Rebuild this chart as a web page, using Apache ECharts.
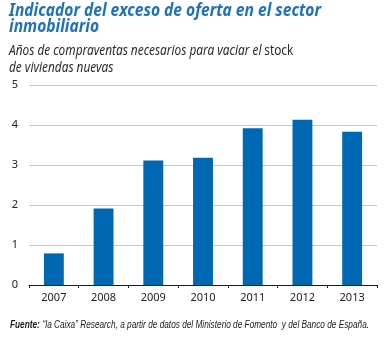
<!DOCTYPE html>
<html><head><meta charset="utf-8">
<script src="https://cdn.jsdelivr.net/npm/echarts@6/dist/echarts.min.js"></script>
<style>html,body{margin:0;padding:0;background:#fff}#c{width:387px;height:338px}</style>
</head><body><div id="c"></div>
<script>
const categories = ['2007','2008','2009','2010','2011','2012','2013'];
const values = [0.79, 1.91, 3.11, 3.18, 3.92, 4.13, 3.83];
const yTicks = [0,1,2,3,4,5];
const titleText = 'Indicador del exceso de oferta en el sector\ninmobiliario';
const subtitleLine1 = 'Años de compraventas necesarios para vaciar el';
const subtitleWord = 'stock';
const subtitleLine2 = 'de viviendas nuevas';
const sourceLabel = 'Fuente:';
const sourceText = '“la Caixa” Research, a partir de datos del Ministerio de Fomento  y del Banco de España.';

const chart = echarts.init(document.getElementById('c'), null, {renderer:'canvas'});
chart.setOption({
  backgroundColor:'#ffffff',
  animation:false,
  graphic:[
    {type:'text', x:9, y:3, scaleX:0.865, silent:true,
     style:{text:titleText, fontFamily:'Noto Sans', fontStyle:'italic', fontWeight:'bold', fontSize:18, lineHeight:16,
            fill:'#1d72bb', verticalAlign:'top', align:'left'}},
    {type:'text', x:9, y:42, scaleX:0.835, silent:true,
     style:{text:'{i|'+subtitleLine1+'} {n|'+subtitleWord+'}\n{i|'+subtitleLine2+'}', verticalAlign:'top', align:'left',
       rich:{
         i:{fontFamily:'Noto Sans', fontStyle:'italic', fontWeight:'normal', fontSize:14.2, lineHeight:17, fill:'#2b2b2b'},
         n:{fontFamily:'Noto Sans', fontStyle:'normal', fontWeight:'normal', fontSize:14.2, lineHeight:17, fill:'#2b2b2b'}}}},
    {type:'text', x:10, y:319, scaleX:0.826, silent:true,
     style:{text:'{b|'+sourceLabel+'} {i|'+sourceText+'}', verticalAlign:'top', align:'left',
       rich:{
         b:{fontFamily:'Liberation Sans', fontStyle:'italic', fontWeight:'bold', fontSize:10, fill:'#1a1a1a'},
         i:{fontFamily:'Liberation Sans', fontStyle:'italic', fontWeight:'normal', fontSize:10, fill:'#1a1a1a'}}}}
  ],
  grid:{left:29, right:10, top:85, bottom:53, containLabel:false},
  xAxis:{type:'category', data:categories,
    axisLine:{lineStyle:{color:'#1a1a1a', width:1}},
    axisTick:{show:true, length:3, inside:false, lineStyle:{color:'#1a1a1a'}},
    axisLabel:{fontFamily:'Noto Sans', fontSize:11, color:'#222', margin:7}},
  yAxis:{type:'value', min:yTicks[0], max:yTicks[yTicks.length-1], interval:1,
    axisLine:{show:false}, axisTick:{show:false},
    axisLabel:{fontFamily:'Noto Sans', fontSize:11, color:'#222', margin:11},
    splitLine:{lineStyle:{color:'#c8c8c8', width:1}}},
  series:[{type:'bar', data:values, barWidth:'40%', itemStyle:{color:'#0068b3'}}]
});
</script></body></html>
